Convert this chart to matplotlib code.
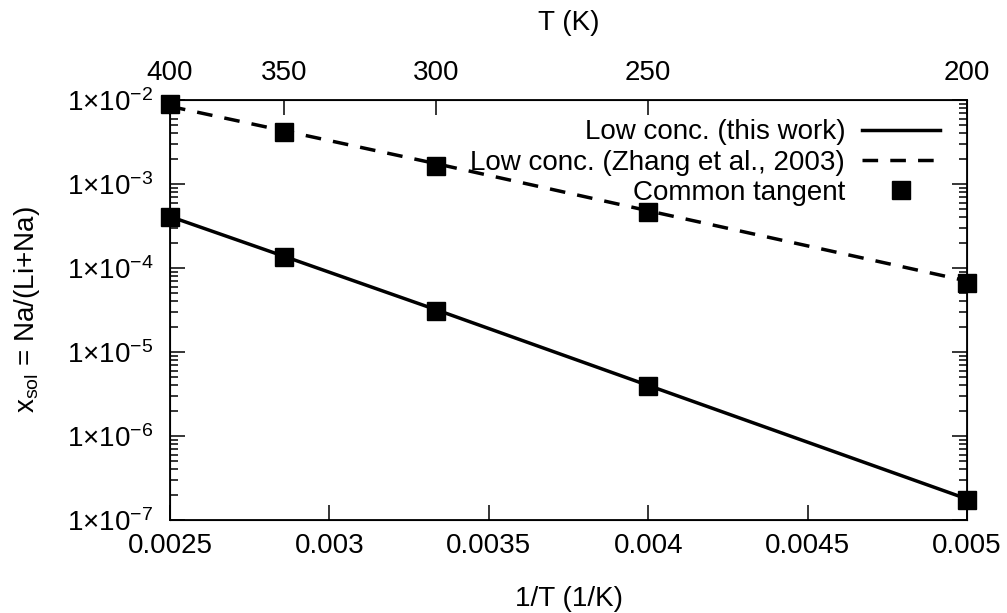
import numpy as np
import matplotlib.pyplot as plt

plt.rcParams['font.family'] = ['Liberation Sans', 'DejaVu Sans']
plt.rcParams['mathtext.fontset'] = 'custom'
plt.rcParams['mathtext.rm'] = 'Liberation Sans'
plt.rcParams['mathtext.it'] = 'Liberation Sans:italic'
plt.rcParams['mathtext.default'] = 'regular'

# temperatures (K)
temps = [400, 350, 300, 250, 200]
# low conc. lines (values at each temperature)
this_work = [4.1e-4, 1.38e-4, 3.2e-5, 4.0e-6, 1.78e-7]
zhang = [8.4e-3, 4.3e-3, 1.75e-3, 4.8e-4, 7.0e-5]
# common tangent points (upper and lower sets)
tangent_high = [9.0e-3, 4.2e-3, 1.65e-3, 4.6e-4, 6.6e-5]
tangent_low = [4.1e-4, 1.36e-4, 3.1e-5, 3.9e-6, 1.75e-7]

x_ticks = [0.0025, 0.003, 0.0035, 0.004, 0.0045, 0.005]
x_tick_labels = ['0.0025', '0.003', '0.0035', '0.004', '0.0045', '0.005']
y_ticks = [1e-7, 1e-6, 1e-5, 1e-4, 1e-3, 1e-2]

inv_t = 1.0 / np.array(temps)
FS = 20

fig = plt.figure(figsize=(10.07, 6.13), dpi=100)
ax = fig.add_axes([0.1688, 0.1517, 0.9603 - 0.1688, 0.8369 - 0.1517])

ax.plot(inv_t, this_work, '-', color='black', lw=2.5, label='Low conc. (this work)')
ax.plot(inv_t, zhang, '--', color='black', lw=2.5, dashes=(4.5, 3.5),
        label='Low conc. (Zhang et al., 2003)')
ax.plot(np.concatenate([inv_t, inv_t]), tangent_high + tangent_low, 's', color='black',
        ms=12.5, ls='none', clip_on=False, zorder=5, label='Common tangent')

ax.set_yscale('log')
ax.set_xlim(0.0025, 0.005)
ax.set_ylim(1e-7, 1e-2)
ax.set_xticks(x_ticks)
ax.set_xticklabels(x_tick_labels)
ax.set_yticks(y_ticks)
ax.set_yticklabels([r'1$\times$10$^{%d}$' % int(np.log10(v)) for v in y_ticks])

ax.tick_params(which='major', direction='in', length=11, width=1.1, labelsize=FS,
               top=False, right=True)
ax.tick_params(axis='x', which='major', pad=9)
ax.tick_params(axis='y', which='major', pad=12)
ax.tick_params(which='minor', direction='in', length=6, width=1.1, right=True)
ax.tick_params(axis='x', which='minor', bottom=False)
for s in ax.spines.values():
    s.set_linewidth(1.3)

ax.set_xlabel('1/T (1/K)', fontsize=FS, labelpad=20)
ax.set_ylabel(r'x$_{sol}$ = Na/(Li+Na)', fontsize=FS, labelpad=18)

ax2 = ax.twiny()
ax2.set_xlim(ax.get_xlim())
ax2.set_xticks(inv_t)
ax2.set_xticklabels([str(t) for t in temps])
ax2.tick_params(direction='in', length=11, width=1.1, labelsize=FS, pad=10)
ax2.set_xlabel('T (K)', fontsize=FS, labelpad=22)

leg = ax.legend(loc='upper right', bbox_to_anchor=(0.99, 1.0), frameon=False,
                markerfirst=False, fontsize=FS, handlelength=2.8,
                labelspacing=0.15, handletextpad=0.6, borderaxespad=0.3)

fig.savefig('out.png', dpi=100)
